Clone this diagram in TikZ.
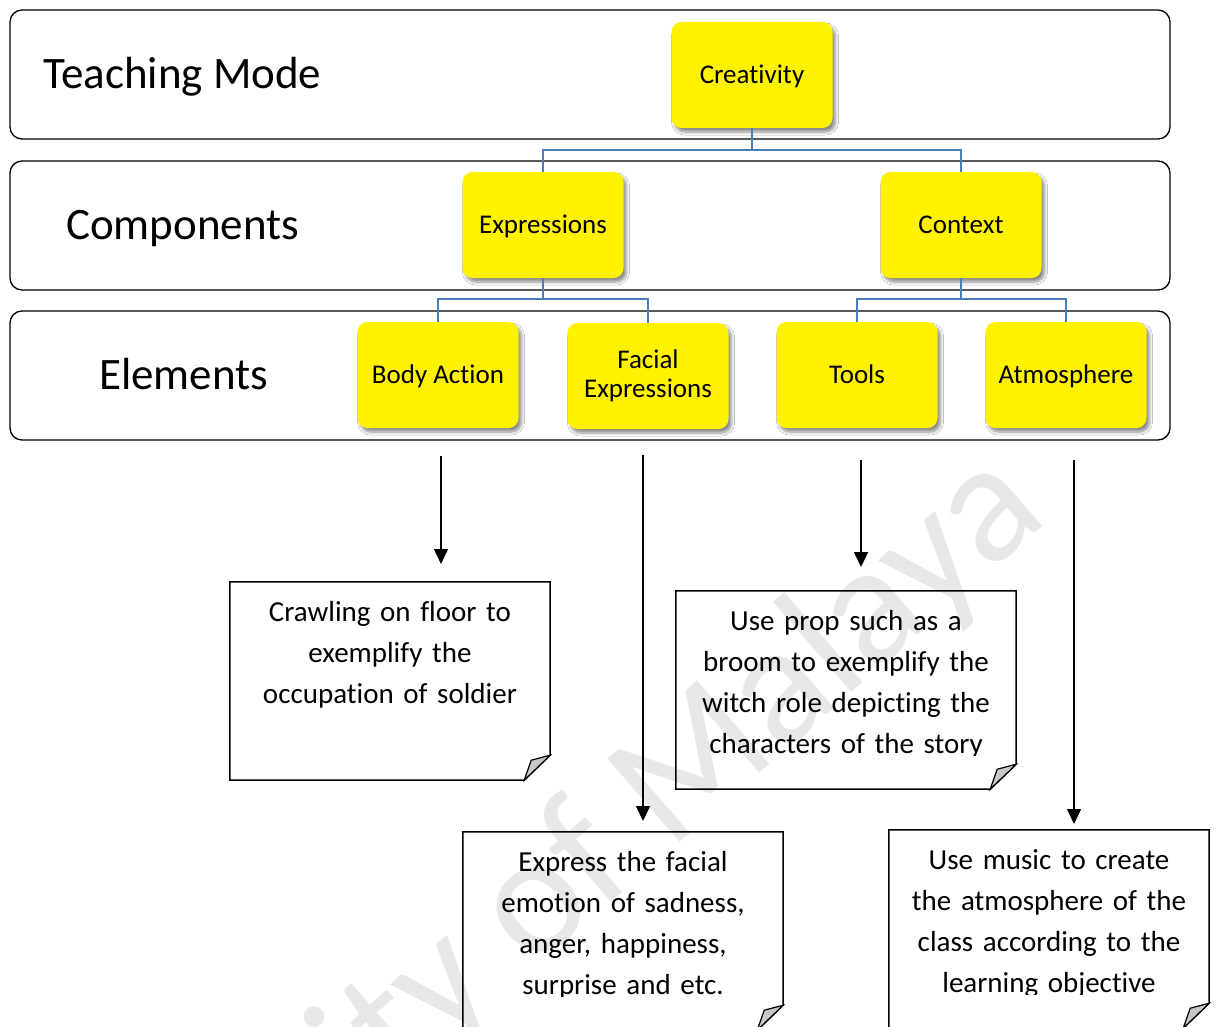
\documentclass[tikz,border=0pt]{standalone}
\usepackage{fontspec}
\setmainfont{Carlito}[RawFeature=-liga]
\usetikzlibrary{arrows.meta,shadows.blur}

\definecolor{treeblue}{RGB}{74,126,187}
\definecolor{foldgray}{RGB}{200,200,200}
\definecolor{markgray}{RGB}{232,232,232}

% folded-corner note: name, centre x, top y, width, height, text
\newcommand\foldnote[6]{%
  \node[minimum width=#4pt,minimum height=#5pt,inner sep=0pt] (#1) at (#2,{#3+#5/2}) {};
  \draw[noteline] (#1.north west) -- (#1.north east) -- ([yshift=25pt]#1.south east)
    -- ([xshift=-26pt]#1.south east) -- (#1.south west) -- cycle;
  \filldraw[fold] ([yshift=25pt]#1.south east) -- ([xshift=-19pt,yshift=20pt]#1.south east)
    -- ([xshift=-26pt]#1.south east) -- cycle;
  \begin{scope}
    \clip (#1.north west) rectangle ([yshift=-165pt]#1.north east);
    \node[notetext] (#1t) at ([yshift=-40pt]#1.north) {#6};
  \end{scope}
}

\begin{document}
\begin{tikzpicture}[x=1pt,y=-1pt,
  band/.style={draw=black,line width=1.3pt,rounded corners=12pt,
    minimum width=1160pt,minimum height=129pt,inner sep=0pt},
  bandlabel/.style={anchor=base west,inner sep=0pt,font=\fontsize{45}{52}\selectfont},
  ybase/.style={fill=yellow,rounded corners=10pt,minimum width=161pt,minimum height=106pt,
    inner sep=2pt,font=\fontsize{27}{29}\selectfont,
    blur shadow={shadow xshift=3pt,shadow yshift=-4pt,shadow opacity=45,
      shadow blur radius=3pt,shadow blur steps=6}},
  ybox/.style={ybase,text height=21.6pt,text depth=4.6pt},
  tree/.style={draw=treeblue,line width=2.2pt},
  arr/.style={line width=1.5pt,-{Triangle[length=15pt,width=14pt]}},
  noteline/.style={line width=1.5pt,line join=miter},
  fold/.style={fill=foldgray,draw=black,line width=1.2pt,line join=miter},
  notetext/.style={anchor=base,inner sep=0pt,text width=330pt,align=center,
    font=\fontsize{29}{41}\selectfont},
]
\useasboundingbox (0,0) rectangle (1217,1027);
\clip (0,0) rectangle (1217,1027);
\fill[white] (0,0) rectangle (1217,1027);

% watermark
\node[anchor=base,inner sep=0pt,rotate=41,text=markgray,
  font=\fontsize{172}{172}\selectfont] (mark) at (512,988) {University of Malaya};

% bands
\node[band] (b1) at (590,74.5) {};
\node[band] (b2) at (590,225.5) {};
\node[band] (b3) at (590,375.5) {};
\node[bandlabel] (l1) at (43,89) {Teaching Mode};
\node[bandlabel] (l2) at (66,239) {Components};
\node[bandlabel] (l3) at (99,389) {Elements};

% hierarchy
\node[ybox] (cr) at (752,75) {Creativity};
\node[ybox] (ex) at (543,225) {Expressions};
\node[ybox] (co) at (961,225) {Context};
\node[ybox] (ba) at (438,375) {Body Action};
\node[ybase,align=center] (fe) at (648,376) {Facial\\Expressions};
\node[ybox] (to) at (857,375) {Tools};
\node[ybox] (at) at (1066,375) {Atmosphere};

\draw[tree] (cr.south) -- ++(0,22) -| (ex.north);
\draw[tree] (cr.south) -- ++(0,22) -| (co.north);
\draw[tree] (ex.south) -- ++(0,21) -| (ba.north);
\draw[tree] (ex.south) -- ++(0,21) -| (fe.north);
\draw[tree] (co.south) -- ++(0,21) -| (to.north);
\draw[tree] (co.south) -- ++(0,21) -| (at.north);

% notes
\foldnote{n1}{390}{582}{320}{198}{Crawling on floor to\\exemplify the\\occupation of soldier}
\foldnote{n2}{846}{591}{340}{198}{Use prop such as a\\broom to exemplify the\\witch role depicting the\\characters of the story}
\foldnote{n3}{623}{832}{320}{198}{Express the facial\\emotion of sadness,\\anger, happiness,\\surprise and etc.}
\foldnote{n4}{1049}{830}{320}{198}{Use music to create\\the atmosphere of the\\class according to the\\learning objective}

% arrows
\coordinate (a1s) at (441,456); \coordinate (a1e) at (441,564);
\coordinate (a2s) at (643,455); \coordinate (a2e) at (643,821);
\coordinate (a3s) at (861,460); \coordinate (a3e) at (861,567);
\coordinate (a4s) at (1074,460); \coordinate (a4e) at (1074,824);
\draw[arr] (a1s) -- (a1e);
\draw[arr] (a2s) -- (a2e);
\draw[arr] (a3s) -- (a3e);
\draw[arr] (a4s) -- (a4e);
\end{tikzpicture}
\end{document}
